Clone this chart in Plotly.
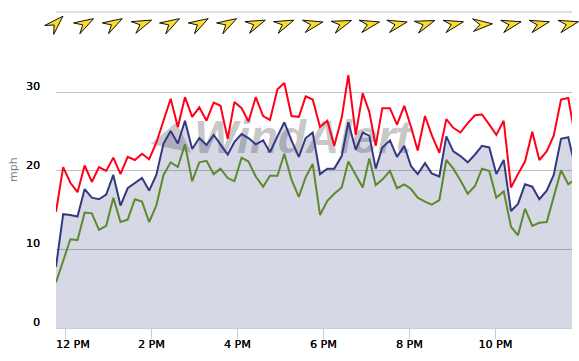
import math
import plotly.graph_objects as go

sample_minutes = [-13,-3,7,17,27,37,47,57,67,77,87,97,107,117,127,137,147,157,167,177,187,197,207,216.5,226.6,236,246,255.6,265.7,276,285.6,296,305.6,315.6,325.8,335.4,345.2,355.4,365.6,375.3,385.7,394.9,405.2,415,424.2,433.1,442.3,453,462.8,473,482.4,491.7,501.9,511.2,521.9,531.6,541.4,551.4,561.5,571.7,581.4,591.6,601.4,611.7,621.9,631.6,641.4,651.6,661.4,671.7,681.5,691.7,701.8,711.9]

gust_mph = [14.8,20.5,18.5,17.3,20.7,18.6,20.5,20.0,21.7,19.6,21.8,21.4,22.2,21.5,23.6,26.5,29.2,25.6,
            29.4,26.9,28.1,26.4,28.7,28.3,24.1,28.8,28.0,26.3,29.4,27.0,26.5,30.4,31.2,27.0,26.9,
            29.5,29.1,25.6,26.4,23.2,26.8,32.2,24.6,29.9,27.5,23.2,28.0,28.0,25.9,28.3,25.6,22.6,27.0,24.6,22.3,
            26.6,25.5,24.9,26.1,27.1,27.2,25.9,24.6,26.4,17.9,19.6,21.2,25.0,21.4,22.5,24.5,29.1,29.3,24.1]
avg_mph = [7.8,14.5,14.4,14.2,17.7,16.6,16.4,17.0,19.5,15.6,17.8,18.4,19.1,17.5,19.5,23.5,25.1,23.5,
           26.4,22.8,24.2,23.3,24.6,23.4,22.1,23.7,24.7,24.2,23.4,23.9,22.4,24.4,26.2,23.9,21.8,
           24.2,24.9,19.6,20.3,20.3,21.9,26.2,22.7,24.9,24.5,20.3,23.0,23.9,21.8,23.2,20.6,19.6,21.0,19.7,19.3,
           24.4,22.5,21.9,21.1,22.1,23.2,23.0,19.6,21.4,14.9,15.8,18.3,18.0,16.4,17.5,19.5,24.1,24.3,20.3]
lull_mph = [5.8,8.7,11.3,11.2,14.7,14.6,12.5,13.0,16.6,13.5,13.8,16.4,16.1,13.5,15.6,19.5,21.1,20.5,
            23.4,18.7,21.1,21.3,19.6,20.3,19.1,18.7,21.7,21.2,19.3,18.0,19.4,19.4,22.2,18.9,16.7,
            19.2,20.9,14.4,16.2,17.1,17.9,21.2,19.5,17.9,21.6,18.2,18.9,20.0,17.8,18.3,17.7,16.6,16.1,15.7,16.3,
            21.4,20.3,18.8,17.1,18.1,20.3,20.0,16.6,17.4,12.9,11.8,15.2,13.0,13.4,13.5,16.7,20.1,18.3,19.0]
wind_dir_deg = [45,60,60,68,60,60,60,68,68,77,70,77,77,70,76,86,76,76,76]
x_tick_vals = [0,120,240,360,480,600]
x_tick_text = ["12 PM","2 PM","4 PM","6 PM","8 PM","10 PM"]
y_tick_vals = [0,10,20,30]

X0, X1 = -13, 707
FONT = "DejaVu Sans"
THICK = "0.35px 0 0 #000000"

fig = go.Figure()
# watermark
fig.add_trace(go.Scatter(x=[150], y=[24.0], mode="markers", hoverinfo="skip",
    marker=dict(symbol="triangle-up", size=36, angle=12, color="#cbcbcb", line_width=0)))
fig.add_trace(go.Scatter(x=[331], y=[23.7], mode="text", text=["WindAlert"], hoverinfo="skip",
    textfont=dict(family="Liberation Sans", size=46, color="#c8c8c8", weight="bold", style="italic")))
fig.add_trace(go.Scatter(x=sample_minutes, y=avg_mph, mode="lines", fill="tozeroy",
    fillcolor="rgba(50,60,125,0.2)", line=dict(color="#343a82", width=2)))
fig.add_trace(go.Scatter(x=sample_minutes, y=gust_mph, mode="lines", line=dict(color="#ff0018", width=2)))
fig.add_trace(go.Scatter(x=sample_minutes, y=lull_mph, mode="lines", line=dict(color="#5c8a2c", width=2)))

def dart(angle):
    a = math.radians(angle)
    pts = [(0,-12),(6.3,7.5),(0,0.5),(-6.3,7.5)]
    out = []
    for px, py in pts:
        rx = px*math.cos(a) - py*math.sin(a) - 1.5
        ry = px*math.sin(a) + py*math.cos(a)
        out.append(f"{rx:.2f},{-ry:.2f}")
    return "M" + "L".join(out) + "Z"

shapes = [dict(type="line", xref="paper", yref="paper", x0=0, x1=1, y0=1, y1=1,
               line=dict(color="#c0c0c0", width=1), layer="below")]
for k, d in enumerate(wind_dir_deg):
    m = sample_minutes[k*4]
    shapes.append(dict(type="path", xref="paper", yref="paper",
        xsizemode="pixel", ysizemode="pixel",
        xanchor=(m-X0)/(X1-X0), yanchor=0.96,
        path=dart(d), fillcolor="#fbdc2a", line=dict(color="#111111", width=1)))

annotations = [
    dict(text="mph", textangle=-90, xref="paper", yref="paper", x=-43/516, xanchor="center", y=0.5,
         showarrow=False, font=dict(family=FONT, size=11, color="#808080")),
    dict(text=x_tick_text[0], xref="x", yref="paper", x=x_tick_vals[0], y=0, yanchor="middle", yshift=-16,
         xshift=8, showarrow=False, font=dict(family=FONT, size=11, color="#000000", shadow=THICK)),
]

fig.update_layout(
    width=579, height=361, showlegend=False, plot_bgcolor="white", paper_bgcolor="white",
    margin=dict(l=56, r=7, t=12, b=33, pad=0),
    shapes=shapes, annotations=annotations,
    xaxis=dict(range=[X0, X1], tickmode="array", tickvals=x_tick_vals,
               ticktext=[""]+x_tick_text[1:], showgrid=False, ticks="outside", ticklen=10, tickcolor="#c0d0e0",
               showline=True, linecolor="#c0d0e0", linewidth=1, zeroline=False,
               ticklabelstandoff=-4,
               tickfont=dict(family=FONT, size=11, color="#000000", shadow=THICK)),
    yaxis=dict(range=[0, 40.25], tickmode="array", tickvals=y_tick_vals, showgrid=True,
               gridcolor="#c0c0c0", gridwidth=1, zeroline=False, ticks="", ticklabelshift=-6,
               ticklabelstandoff=15,
               tickfont=dict(family=FONT, size=11, color="#000000", shadow=THICK)),
)
fig.write_html("out.html", config={"displayModeBar": False},
               post_script="document.body.style.margin='0';document.documentElement.style.overflow='hidden';")
